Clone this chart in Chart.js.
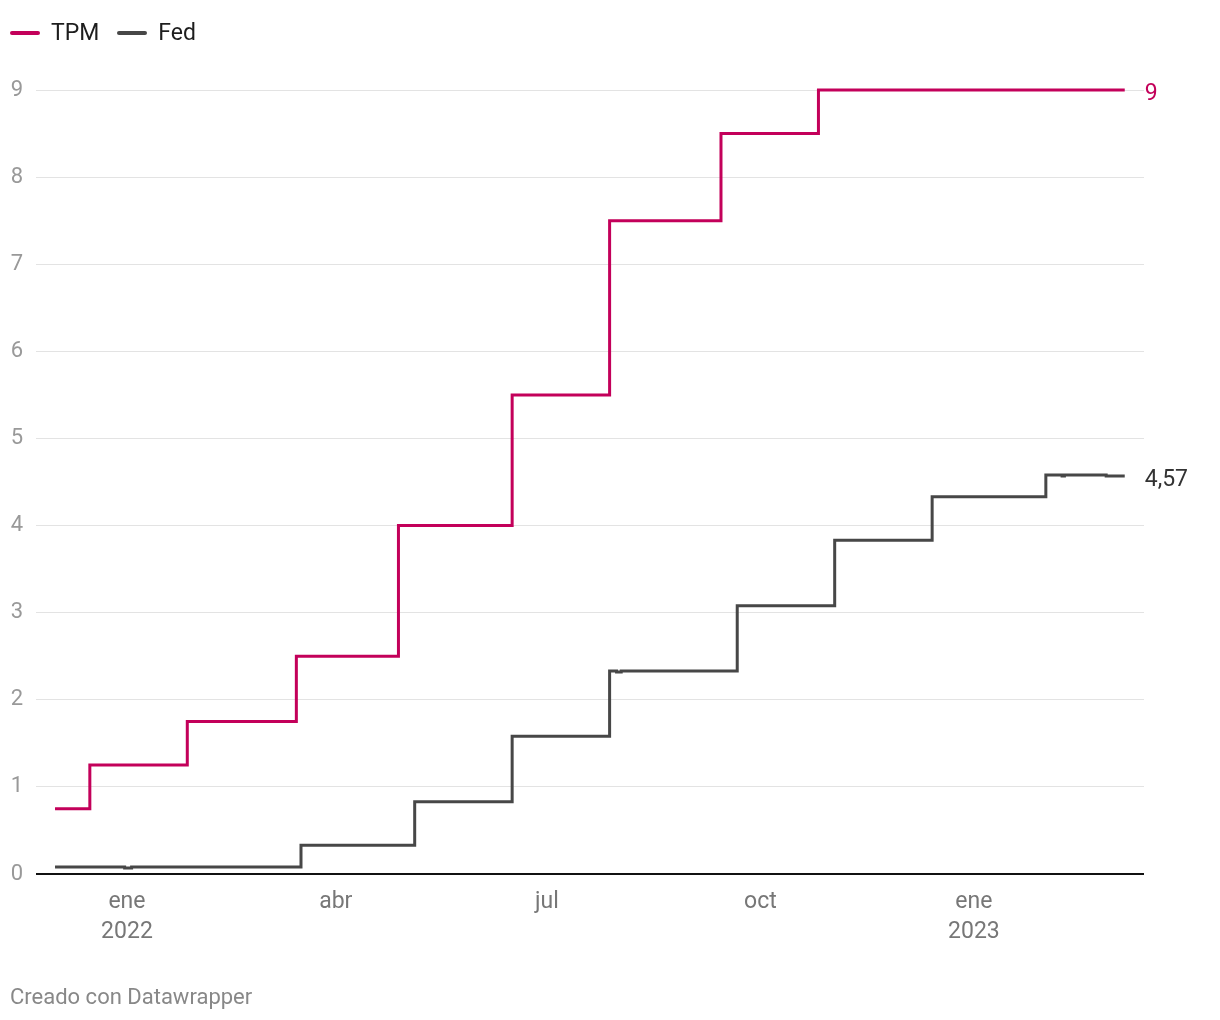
<!DOCTYPE html>
<html>
<head>
<meta charset="utf-8">
<script src="https://cdn.jsdelivr.net/npm/chart.js@4/dist/chart.umd.min.js"></script>
<style>
  body { margin: 0; background: #fff; font-family: Roboto, sans-serif; }
  .wrap { position: relative; width: 1220px; height: 1020px; }
  .wrap canvas { position: absolute; left: 0; top: 0; }
  .legend { position: absolute; left: 10px; top: 19px; display: flex; align-items: center; font-size: 23px; color: #1d1d1d; }
  .legend .key { display: flex; align-items: center; margin-right: 18px; }
  .legend .line { width: 30px; height: 4px; border-radius: 2px; margin-right: 11px; }
  .footer { position: absolute; left: 10px; top: 984px; font-size: 22px; color: #888; }
</style>
</head>
<body>
<div class="wrap">
  <canvas id="chart" width="1220" height="1020"></canvas>
  <div class="legend">
    <div class="key"><span class="line" style="background:#c3005a"></span>TPM</div>
    <div class="key"><span class="line" style="background:#474747"></span>Fed</div>
  </div>
  <div class="footer">Creado con Datawrapper</div>
</div>
<script>
// tasa de politica monetaria, fechas de cambio
const tpmDates = ['2021-12-01', '2021-12-16', '2022-01-27', '2022-03-15', '2022-04-28',
    '2022-06-16', '2022-07-28', '2022-09-14', '2022-10-26', '2023-03-07'];
const tpmValues = [0.75, 1.25, 1.75, 2.5, 4, 5.5, 7.5, 8.5, 9, 9];

// tasa efectiva de la Fed
const fedDates = ['2021-12-01', '2021-12-31', '2022-01-03', '2022-03-17', '2022-05-05',
    '2022-06-16', '2022-07-28', '2022-07-31', '2022-08-02', '2022-09-21', '2022-11-02',
    '2022-12-14', '2023-02-01', '2023-02-08', '2023-02-09', '2023-02-27', '2023-03-07'];
const fedValues = [0.08, 0.07, 0.08, 0.33, 0.83, 1.58, 2.33, 2.32, 2.33, 3.08, 3.83,
    4.33, 4.58, 4.57, 4.58, 4.57, 4.57];

const xTickDates = ['2022-01-01', '2022-04-01', '2022-07-01', '2022-10-01', '2023-01-01'];
const xTickLabels = [['ene', '2022'], 'abr', 'jul', 'oct', ['ene', '2023']];
const yTicks = [0, 1, 2, 3, 4, 5, 6, 7, 8, 9];

// days counted from 1 jan 2022 (no date adapter available)
function day(s) {
    const p = s.split('-');
    return (Date.UTC(+p[0], +p[1] - 1, +p[2]) - Date.UTC(2022, 0, 1)) / 864e5;
}

function points(dates, values) {
    return dates.map((d, i) => ({ x: day(d), y: values[i] }));
}

const endLabels = {
    id: 'endLabels',
    afterDatasetsDraw(chart) {
        const ctx = chart.ctx;
        ctx.save();
        ctx.font = '23px Roboto';
        ctx.textBaseline = 'middle';
        ctx.textAlign = 'left';
        chart.data.datasets.forEach((ds, i) => {
            const meta = chart.getDatasetMeta(i);
            const pt = meta.data[meta.data.length - 1];
            const v = ds.data[ds.data.length - 1].y;
            ctx.fillStyle = ds.labelColor;
            ctx.fillText(String(v).replace('.', ','), pt.x + 20, pt.y + 4);
        });
        ctx.restore();
    }
};

const config = {
    type: 'line',
    data: {
        datasets: [{
            label: 'TPM',
            data: points(tpmDates, tpmValues),
            borderColor: '#c3005a',
            labelColor: '#c3005a',
            borderWidth: 3,
            stepped: true,
            pointRadius: 0,
            clip: 8,
        }, {
            label: 'Fed',
            data: points(fedDates, fedValues),
            borderColor: '#474747',
            labelColor: '#333333',
            borderWidth: 3,
            stepped: true,
            pointRadius: 0,
            clip: 8,
        }]
    },
    options: {
        responsive: false,
        animation: false,
        layout: { padding: { left: 10, right: 76, top: 90, bottom: 72 } },
        plugins: { legend: { display: false }, tooltip: { enabled: false } },
        scales: {
            x: {
                type: 'linear',
                min: -39.2,
                max: 438.3,
                grid: { display: false },
                border: { display: false },
                afterBuildTicks: s => { s.ticks = xTickDates.map(d => ({ value: day(d) })); },
                afterFit: s => { s.height = 74; },
                ticks: {
                    autoSkip: false,
                    maxRotation: 0,
                    padding: 6,
                    color: '#777',
                    font: { family: 'Roboto', size: 23, lineHeight: 1.27 },
                    callback: (v, i) => xTickLabels[i]
                }
            },
            y: {
                min: 0,
                max: 9,
                afterBuildTicks: s => { s.ticks = yTicks.map(v => ({ value: v })); },
                afterFit: s => { s.width = 26; },
                border: { display: false },
                grid: {
                    drawTicks: false,
                    color: c => c.tick.value === 0 ? '#111' : '#e3e3e3',
                    lineWidth: c => c.tick.value === 0 ? 2 : 1
                },
                ticks: {
                    padding: 13,
                    color: '#999',
                    font: { family: 'Roboto', size: 22 }
                }
            }
        }
    },
    plugins: [endLabels]
};

const myChart = new Chart(document.getElementById('chart'), config);
</script>
</body>
</html>
